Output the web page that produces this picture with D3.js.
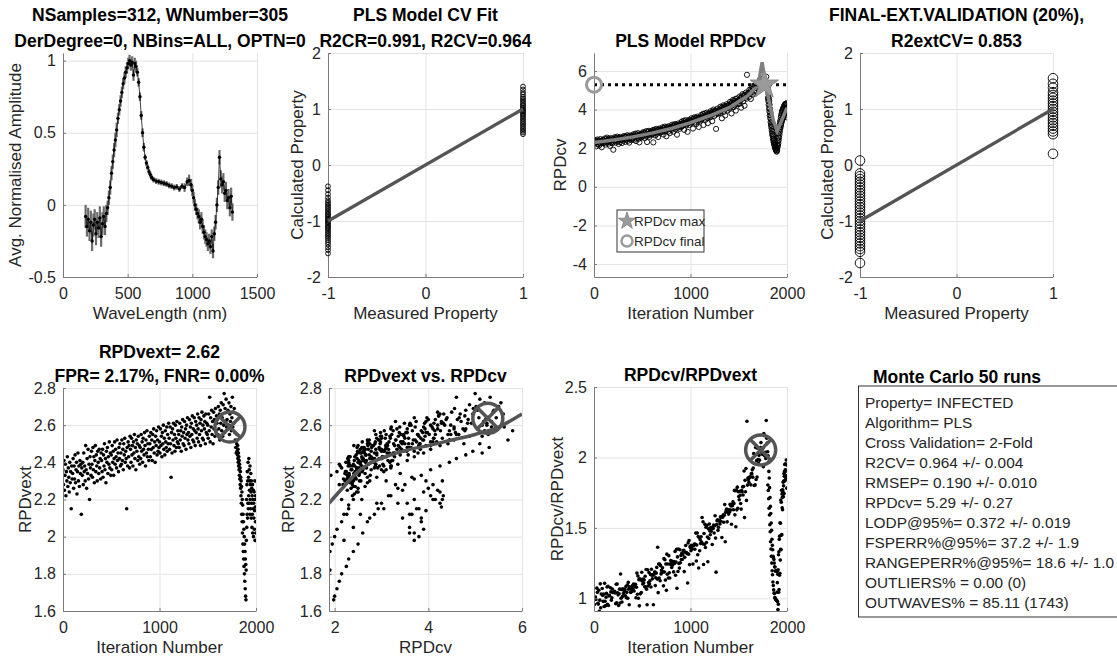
<!DOCTYPE html>
<html>
<head>
<meta charset="utf-8">
<title>PLS Monte Carlo</title>
<script src="https://cdn.jsdelivr.net/npm/d3@7"></script>
<style>
  body { margin: 0; background: #fff; }
  svg { font-family: "Liberation Sans", Arial, sans-serif; }
</style>
</head>
<body>
<svg id="fig" width="1117" height="657"></svg>
<script>
// ---------- data ----------
// averaged spectrum (panel 1)
const waveLength = [175,185,195,205,215,225,235,245,255,265,
  275,285,295,305,315,325,335,345,355,365,
  375,385,395,405,415,425,435,445,455,465,
  475,485,495,505,515,525,535,545,555,565,
  575,585,595,605,615,625,635,645,655,665,
  675,685,700,720,740,760,780,800,820,840,
  860,880,900,920,940,960,975,990,1000,1010,
  1020,1030,1040,1050,1060,1070,1080,1090,1100,1110,
  1120,1130,1140,1150,1160,1170,1180,1190,1200,1210,
  1220,1230,1240,1250,1260,1270,1280,1290,1300,1310];
const amplitude = [-0.08,-0.15,-0.10,-0.18,-0.12,-0.25,-0.14,-0.10,-0.20,-0.12,
  -0.16,-0.09,-0.22,-0.13,-0.08,-0.15,-0.06,-0.02,0.05,0.12,
  0.22,0.30,0.38,0.45,0.52,0.60,0.66,0.72,0.78,0.84,
  0.88,0.92,0.95,0.98,1.00,0.97,0.99,0.90,0.98,0.96,
  0.92,0.85,0.75,0.62,0.50,0.40,0.33,0.29,0.26,0.23,
  0.21,0.19,0.175,0.165,0.16,0.155,0.15,0.145,0.135,0.13,
  0.12,0.125,0.11,0.13,0.12,0.16,0.17,0.14,0.10,0.05,
  0.00,-0.03,-0.06,-0.08,-0.12,-0.10,-0.15,-0.19,-0.22,-0.24,
  -0.27,-0.25,-0.29,-0.22,-0.32,-0.20,-0.12,0.00,0.12,0.33,
  0.18,0.14,0.16,0.08,0.10,0.03,0.05,-0.02,0.06,-0.05];
const amplitudeSd = [0.08,0.07,0.08,0.07,0.08,0.07,0.08,0.07,0.08,0.07,
  0.07,0.08,0.07,0.08,0.07,0.06,0.06,0.05,0.05,0.05,
  0.05,0.05,0.05,0.05,0.05,0.04,0.04,0.04,0.04,0.04,
  0.04,0.04,0.04,0.04,0.04,0.04,0.04,0.04,0.04,0.04,
  0.03,0.03,0.03,0.03,0.03,0.03,0.02,0.02,0.02,0.02,
  0.02,0.02,0.02,0.02,0.02,0.02,0.02,0.02,0.02,0.02,
  0.02,0.02,0.02,0.02,0.03,0.03,0.04,0.04,0.04,0.04,
  0.04,0.04,0.04,0.05,0.05,0.05,0.05,0.05,0.05,0.05,
  0.05,0.05,0.05,0.05,0.05,0.05,0.05,0.05,0.05,0.05,
  0.06,0.06,0.06,0.06,0.06,0.06,0.06,0.06,0.06,0.06];

// CV fit (panel 2) and external validation (panel 4)
const cvCalcNeg = [-1.58,-1.52,-1.47,-1.42,-1.38,-1.34,-1.30,-1.27,-1.24,-1.21,-1.18,-1.15,-1.12,-1.10,-1.07,-1.05,-1.02,-1.00,
  -0.98,-0.95,-0.93,-0.90,-0.88,-0.85,-0.82,-0.79,-0.76,-0.73,-0.70,-0.67,-0.63,-0.58,-0.52,-0.45,-0.38];
const cvCalcPos = [0.55,0.58,0.61,0.64,0.67,0.70,0.73,0.76,0.79,0.82,0.85,0.88,0.90,0.93,0.95,0.98,1.00,1.02,
  1.05,1.07,1.10,1.13,1.16,1.19,1.22,1.26,1.30,1.35,1.40];
const extCalcNeg = [-1.75,-1.55,-1.50,-1.45,-1.40,-1.35,-1.30,-1.25,-1.20,-1.15,-1.10,-1.05,-1.00,-0.95,-0.90,-0.85,
  -0.80,-0.75,-0.70,-0.65,-0.60,-0.55,-0.50,-0.45,-0.40,-0.35,-0.30,-0.25,-0.20,-0.15,0.08];
const extCalcPos = [0.20,0.55,0.60,0.65,0.70,0.75,0.80,0.85,0.90,0.95,1.00,1.05,1.10,1.15,1.20,1.25,1.30,1.38,1.45,1.55];
const fitLine = [-1, 1];

// iterations: every 5 up to 1795, every 2 over the collapse 1800..2000
const iterations = d3.range(0, 1800, 5).concat(d3.range(1800, 2001, 2));
const rpdcv = [
  2.35,2.18,2.42,2.27,2.31,2.10,2.38,2.45,2.22,2.33,2.40,2.15,2.29,2.47,2.24,2.36,2.05,2.30,2.43,2.26,
  2.41,2.28,2.50,2.33,2.19,2.46,2.37,2.55,2.30,2.42,2.23,2.49,2.35,2.12,2.44,2.52,2.31,2.40,2.26,2.47,
  1.92,2.50,2.38,2.57,2.44,2.29,2.53,2.41,2.60,2.35,2.48,2.22,2.55,2.46,2.31,2.58,2.43,2.52,2.27,2.49,
  2.55,2.40,2.63,2.48,2.58,2.33,2.61,2.50,2.45,2.67,2.38,2.56,2.62,2.29,2.53,2.66,2.47,2.59,2.42,2.64,
  2.63,2.51,2.72,2.44,2.66,2.58,2.75,2.37,2.61,2.70,2.53,2.78,2.48,2.65,2.30,2.72,2.59,2.68,2.55,2.76,
  2.74,2.60,2.83,2.66,2.78,2.52,2.80,2.71,2.88,2.63,2.32,2.85,2.74,2.68,2.90,2.59,2.79,2.83,2.70,2.87,
  2.85,2.72,2.94,2.30,2.88,2.78,2.97,2.66,2.90,2.83,3.00,2.75,2.93,2.58,2.96,2.87,3.02,2.80,2.92,2.98,
  2.96,2.84,3.08,2.90,2.71,3.05,2.98,3.12,2.88,3.01,2.62,3.10,2.95,3.06,2.86,3.14,3.00,2.78,3.09,3.03,
  3.10,2.95,3.22,3.04,3.16,2.85,3.19,3.08,3.25,2.98,3.13,3.21,2.70,3.17,3.06,3.28,3.12,3.00,3.24,3.18,
  3.26,3.10,3.38,3.15,3.30,3.22,3.42,2.95,3.33,3.25,3.45,3.18,3.36,3.28,2.85,3.40,3.31,3.47,3.21,3.39,
  3.41,3.28,3.55,3.36,3.48,3.02,3.52,3.44,3.60,3.33,3.50,3.57,3.25,3.46,3.63,3.39,3.54,3.10,3.58,3.49,
  3.58,3.43,3.72,3.50,3.65,3.55,3.78,3.20,3.68,3.61,3.80,3.47,3.70,3.63,3.84,3.56,3.30,3.75,3.66,3.82,
  3.77,3.60,3.92,3.72,3.85,3.40,3.90,3.80,4.00,3.66,3.88,3.95,3.74,3.00,3.93,3.83,4.05,3.78,3.97,3.90,
  3.98,3.82,4.15,3.93,4.08,3.55,4.12,4.02,4.22,3.88,4.10,4.18,3.70,4.14,4.05,4.28,3.95,4.20,4.11,4.25,
  4.20,4.05,4.40,4.15,4.32,3.80,4.38,4.26,4.50,4.12,4.35,4.45,4.22,4.55,3.95,4.42,4.33,4.58,4.28,4.48,
  4.48,4.30,4.68,4.45,4.60,4.10,4.66,4.55,4.80,4.42,4.70,4.76,4.20,4.74,4.62,4.88,4.56,5.80,4.78,4.84,
  4.85,4.65,5.02,4.80,4.95,4.55,5.05,4.92,5.20,4.78,5.08,5.15,4.88,5.25,5.00,5.30,4.96,5.18,5.10,5.35,
  5.22,5.05,5.40,5.15,5.55,5.28,5.60,5.35,5.50,5.20,5.45,5.32,5.62,5.38,5.25,5.48,5.10,5.70,5.30,5.15,
  // 1800..2000 step 2
  5.10,4.60,4.95,4.45,4.80,4.25,4.60,4.05,4.45,3.90,4.25,3.70,4.05,3.55,3.85,3.35,3.70,3.20,3.50,3.05,
  3.35,2.90,3.15,2.75,3.00,2.65,2.85,2.50,2.70,2.40,2.60,2.30,2.50,2.20,2.40,2.15,2.30,2.05,2.25,2.00,
  2.15,1.95,2.10,1.90,2.05,1.85,2.00,1.82,1.98,1.90,2.20,2.15,2.40,2.10,2.55,2.25,2.75,2.40,2.90,2.55,
  3.05,2.70,3.20,2.85,3.35,3.00,3.45,3.10,3.60,3.20,3.70,3.30,3.80,3.40,3.90,3.45,3.95,3.55,4.00,3.60,
  4.05,3.65,4.10,3.70,4.15,3.75,4.20,3.80,4.25,3.85,4.25,3.90,4.30,3.95,4.30,3.70,4.28,3.85,4.32,3.60,
  4.10];
const rpdvext = [
  2.36,2.28,2.41,2.25,2.33,2.39,2.22,2.35,2.30,2.43,2.27,2.37,2.32,2.24,2.40,2.29,2.35,2.15,2.38,2.31,
  2.34,2.42,2.26,2.38,2.31,2.44,2.29,2.36,2.40,2.23,2.35,2.45,2.30,2.38,2.27,2.41,2.34,2.39,2.12,2.37,
  2.33,2.40,2.28,2.45,2.35,2.38,2.30,2.49,2.36,2.26,2.42,2.34,2.47,2.31,2.39,2.20,2.43,2.37,2.33,2.46,
  2.39,2.32,2.48,2.36,2.43,2.29,2.41,2.49,2.35,2.44,2.38,2.30,2.46,2.40,2.34,2.47,2.37,2.42,2.31,2.45,
  2.41,2.35,2.47,2.32,2.44,2.38,2.50,2.36,2.42,2.29,2.46,2.40,2.48,2.34,2.43,2.39,2.51,2.37,2.45,2.33,
  2.44,2.36,2.49,2.40,2.46,2.33,2.42,2.51,2.39,2.47,2.43,2.37,2.52,2.41,2.45,2.35,2.48,2.42,2.50,2.38,
  2.45,2.39,2.52,2.41,2.47,2.36,2.50,2.44,2.53,2.40,2.46,2.42,2.15,2.48,2.38,2.51,2.43,2.49,2.37,2.54,
  2.47,2.40,2.53,2.44,2.49,2.38,2.51,2.45,2.55,2.42,2.48,2.36,2.52,2.46,2.50,2.41,2.54,2.43,2.49,2.39,
  2.48,2.42,2.55,2.46,2.51,2.40,2.53,2.47,2.44,2.56,2.49,2.38,2.52,2.45,2.57,2.43,2.50,2.47,2.41,2.54,
  2.50,2.43,2.56,2.47,2.52,2.41,2.55,2.48,2.58,2.45,2.51,2.40,2.54,2.49,2.57,2.44,2.52,2.46,2.59,2.48,
  2.51,2.45,2.58,2.49,2.54,2.43,2.56,2.50,2.60,2.47,2.53,2.44,2.57,2.51,2.48,2.59,2.46,2.55,2.50,2.61,
  2.53,2.47,2.59,2.50,2.32,2.56,2.45,2.58,2.52,2.61,2.49,2.55,2.46,2.60,2.53,2.48,2.62,2.51,2.57,2.50,
  2.55,2.48,2.61,2.52,2.57,2.46,2.59,2.54,2.63,2.50,2.56,2.49,2.62,2.53,2.58,2.47,2.60,2.55,2.64,2.52,
  2.56,2.50,2.63,2.54,2.59,2.48,2.61,2.55,2.65,2.52,2.58,2.51,2.64,2.57,2.49,2.62,2.56,2.60,2.53,2.66,
  2.58,2.51,2.64,2.55,2.61,2.49,2.63,2.57,2.67,2.53,2.60,2.52,2.65,2.58,2.62,2.50,2.66,2.56,2.61,2.55,
  2.60,2.53,2.66,2.57,2.75,2.51,2.64,2.59,2.68,2.55,2.62,2.50,2.67,2.58,2.63,2.54,2.69,2.57,2.65,2.61,
  2.63,2.55,2.70,2.58,2.66,2.52,2.68,2.61,2.72,2.57,2.64,2.54,2.71,2.60,2.77,2.56,2.69,2.62,2.74,2.59,
  2.63,2.58,2.68,2.60,2.72,2.55,2.66,2.62,2.70,2.57,2.64,2.75,2.59,2.67,2.61,2.69,2.56,2.52,2.48,2.45,
  // 1800..2000 step 2
  2.50,2.55,2.46,2.52,2.44,2.49,2.42,2.47,2.40,2.45,2.38,2.43,2.36,2.41,2.33,2.39,2.31,2.37,2.28,2.35,
  2.26,2.32,2.22,2.30,2.18,2.27,2.12,2.24,2.08,2.20,2.02,2.17,1.96,2.12,1.92,2.08,1.88,2.04,1.84,2.00,
  1.80,1.96,1.76,1.92,1.72,1.88,1.68,1.85,1.66,1.82,1.98,2.20,2.05,2.28,2.12,2.35,2.10,2.30,2.18,2.40,
  2.15,2.32,2.22,2.42,2.18,2.36,2.25,2.30,2.12,2.38,2.20,2.28,2.15,2.34,2.24,2.10,2.30,2.18,2.26,2.05,
  2.22,2.12,2.28,2.02,2.20,2.15,2.25,2.00,2.18,2.10,2.24,2.04,2.20,2.14,2.30,1.98,2.16,2.08,2.22,2.02,
  2.20];

// smoothed RPDcv curve (panel 3)
const cvFitIter = [0,200,400,600,800,1000,1200,1400,1600,1700,1742,1780,1820,1860,1900,1950,2000];
const cvFitVal  = [2.30,2.42,2.58,2.78,3.02,3.32,3.68,4.10,4.75,5.25,6.45,5.30,4.30,3.40,2.90,3.50,4.10];
// trend RPDvext vs RPDcv (panel 6)
const extFitCv  = [1.88,2.2,2.5,2.8,3.2,3.6,4.0,4.5,5.0,5.5,6.0];
const extFitVal = [2.18,2.27,2.35,2.40,2.44,2.47,2.49,2.52,2.55,2.59,2.66];

const rpdcvFinal = 5.29;
const bestIter = { star: 1765, ext: 1730, ratio: 1727 };
const bestPoint = { ext: 2.59, cv: 5.27, cvExt: 2.637, ratio: 2.053 };

const summaryLines = [
  "Property= INFECTED", "Algorithm= PLS", "Cross Validation= 2-Fold",
  "R2CV= 0.964 +/- 0.004", "RMSEP= 0.190 +/- 0.010", "RPDcv= 5.29 +/- 0.27",
  "LODP@95%= 0.372 +/- 0.019", "FSPERR%@95%= 37.2 +/- 1.9", "RANGEPERR%@95%= 18.6 +/- 1.0",
  "OUTLIERS% = 0.00 (0)", "OUTWAVES% = 85.11 (1743)"
];

// ---------- helpers ----------
const svg = d3.select("#fig");
const TXT = "#262626", AXC = "#7a7a7a", GRID = "#e3e3e3", FIT = "#545454";

function makePanel(p) {
  const x = d3.scaleLinear().domain(p.xDomain).range([p.left, p.right]);
  const y = d3.scaleLinear().domain(p.yDomain).range([p.bottom, p.top]);
  const w = p.right - p.left, h = p.bottom - p.top;
  const g = svg.append("g");

  g.append("g").attr("transform", `translate(0,${p.bottom})`)
    .call(d3.axisBottom(x).tickValues(p.xTicks).tickSize(-h).tickFormat(""))
    .call(s => { s.select(".domain").remove(); s.selectAll("line").attr("stroke", GRID); });
  g.append("g").attr("transform", `translate(${p.left},0)`)
    .call(d3.axisLeft(y).tickValues(p.yTicks).tickSize(-w).tickFormat(""))
    .call(s => { s.select(".domain").remove(); s.selectAll("line").attr("stroke", GRID); });

  g.append("clipPath").attr("id", "clip" + p.id)
    .append("rect").attr("x", p.left).attr("y", p.top).attr("width", w).attr("height", h);
  const plot = g.append("g").attr("clip-path", `url(#clip${p.id})`);

  const styleAxis = s => {
    s.attr("font-family", null).attr("font-size", null);
    s.select(".domain").attr("stroke", AXC);
    s.selectAll(".tick line").attr("stroke", AXC);
    s.selectAll("text").attr("fill", TXT).style("font-size", "16px");
  };
  g.append("g").attr("transform", `translate(0,${p.bottom})`)
    .call(d3.axisBottom(x).tickValues(p.xTicks).tickSizeInner(-3).tickSizeOuter(0)
      .tickPadding(11).tickFormat(d => String(d)))
    .call(styleAxis);
  g.append("g").attr("transform", `translate(${p.left},0)`)
    .call(d3.axisLeft(y).tickValues(p.yTicks).tickSizeInner(-3).tickSizeOuter(0)
      .tickPadding(7).tickFormat(d => String(d)))
    .call(styleAxis);

  const cx = (p.left + p.right) / 2;
  g.append("text").attr("x", cx).attr("y", p.bottom + 42).attr("text-anchor", "middle")
    .attr("fill", TXT).style("font-size", "17px").text(p.xLabel);
  g.append("text").attr("transform", `translate(${p.yLabelX},${(p.top + p.bottom) / 2}) rotate(-90)`)
    .attr("dy", "0.35em").attr("text-anchor", "middle")
    .attr("fill", TXT).style("font-size", "17px").text(p.yLabel);

  const gap = p.titleGap || 25;
  p.title.forEach((t, i) => {
    g.append("text").attr("x", cx).attr("y", p.top - 6 - (p.title.length - 1 - i) * gap)
      .attr("text-anchor", "middle").attr("fill", "#000")
      .style("font-size", "17.5px").style("font-weight", "bold").text(t);
  });

  const over = g.append("g");
  return { x, y, plot, over };
}

function crossCircle(sel, cx, cy, r) {
  const k = r * 0.7;
  sel.append("circle").attr("cx", cx).attr("cy", cy).attr("r", r)
    .attr("fill", "none").attr("stroke", FIT).attr("stroke-width", 3.5);
  sel.append("path").attr("d", `M${cx - k},${cy - k}L${cx + k},${cy + k}M${cx - k},${cy + k}L${cx + k},${cy - k}`)
    .attr("stroke", FIT).attr("stroke-width", 3.5);
}

const TOP = 53, TBOT = 277, BTOP = 388, BBOT = 611;

// ---------- panel 1: spectrum ----------
{
  const P = makePanel({ id: 1, left: 63, right: 257, top: TOP, bottom: TBOT, titleGap: 26,
    xDomain: [0, 1500], yDomain: [-0.5, 1.053], xTicks: [0, 500, 1000, 1500], yTicks: [-0.5, 0, 0.5, 1],
    xLabel: "WaveLength (nm)", yLabel: "Avg. Normalised Amplitude", yLabelX: 15,
    title: ["NSamples=312, WNumber=305", "DerDegree=0, NBins=ALL, OPTN=0"] });
  const pts = waveLength.map((w, i) => ({ w, a: amplitude[i], s: amplitudeSd[i] }));
  P.plot.selectAll(".eb").data(pts).join("line")
    .attr("x1", d => P.x(d.w)).attr("x2", d => P.x(d.w))
    .attr("y1", d => P.y(d.a - d.s)).attr("y2", d => P.y(d.a + d.s))
    .attr("stroke", "#6a6a6a").attr("stroke-width", 2.2);
  P.plot.append("path").datum(pts)
    .attr("d", d3.line().x(d => P.x(d.w)).y(d => P.y(d.a)))
    .attr("fill", "none").attr("stroke", "#111").attr("stroke-width", 0.8);
  P.plot.selectAll(".dot").data(pts).join("circle")
    .attr("cx", d => P.x(d.w)).attr("cy", d => P.y(d.a)).attr("r", 1.7).attr("fill", "#000");
}

// ---------- panels 2 and 4: measured vs calculated ----------
function fitPanel(cfg, neg, pos, r) {
  const P = makePanel(Object.assign({ top: TOP, bottom: TBOT, titleGap: 26, xDomain: [-1, 1], yDomain: [-2, 2],
    xTicks: [-1, 0, 1], yTicks: [-2, -1, 0, 1, 2],
    xLabel: "Measured Property", yLabel: "Calculated Property" }, cfg));
  const pts = neg.map(v => [-1, v]).concat(pos.map(v => [1, v]));
  P.over.selectAll(".c").data(pts).join("circle")
    .attr("cx", d => P.x(d[0])).attr("cy", d => P.y(d[1])).attr("r", r)
    .attr("fill", "none").attr("stroke", "#000").attr("stroke-width", 0.9);
  P.over.append("line")
    .attr("x1", P.x(fitLine[0])).attr("y1", P.y(fitLine[0]))
    .attr("x2", P.x(fitLine[1])).attr("y2", P.y(fitLine[1]))
    .attr("stroke", FIT).attr("stroke-width", 3.2);
}
fitPanel({ id: 2, left: 328, right: 523, yLabelX: 297,
  title: ["PLS Model CV Fit", "R2CR=0.991, R2CV=0.964"] }, cvCalcNeg, cvCalcPos, 2.4);
fitPanel({ id: 4, left: 860, right: 1053, yLabelX: 827,
  title: ["FINAL-EXT.VALIDATION (20%),", "R2extCV= 0.853"] }, extCalcNeg, extCalcPos, 4.8);

// ---------- panel 3: RPDcv per iteration ----------
{
  const P = makePanel({ id: 3, left: 594, right: 787, top: TOP, bottom: TBOT,
    xDomain: [0, 2000], yDomain: [-4.67, 6.93], xTicks: [0, 1000, 2000], yTicks: [-4, -2, 0, 2, 4, 6],
    xLabel: "Iteration Number", yLabel: "RPDcv", yLabelX: 560, title: ["PLS Model RPDcv"] });
  P.plot.selectAll(".c").data(iterations).join("circle")
    .attr("cx", d => P.x(d)).attr("cy", (d, i) => P.y(rpdcv[i])).attr("r", 2.6)
    .attr("fill", "none").attr("stroke", "#000").attr("stroke-width", 0.9);
  P.plot.append("path").datum(cvFitIter)
    .attr("d", d3.line().x(d => P.x(d)).y((d, i) => P.y(cvFitVal[i])))
    .attr("fill", "none").attr("stroke", "#808080").attr("stroke-width", 3.5);
  P.plot.append("line").attr("x1", P.x(0)).attr("x2", P.x(2000))
    .attr("y1", P.y(rpdcvFinal)).attr("y2", P.y(rpdcvFinal))
    .attr("stroke", "#000").attr("stroke-width", 3).attr("stroke-dasharray", "3,4");
  const star = d3.symbol(d3.symbolStar);
  P.over.append("path").attr("d", star.size(15 * 15 / 0.8908)())
    .attr("transform", `translate(${P.x(bestIter.star)},${P.y(rpdcvFinal)})`)
    .attr("fill", "#9a9a9a").attr("stroke", "#8a8a8a");
  P.over.append("circle").attr("cx", P.x(0)).attr("cy", P.y(rpdcvFinal)).attr("r", 7.5)
    .attr("fill", "none").attr("stroke", "#9a9a9a").attr("stroke-width", 3);
  // legend
  const lg = P.over.append("g").attr("transform", "translate(617,210)");
  lg.append("rect").attr("width", 87).attr("height", 42).attr("fill", "#fff").attr("stroke", "#333");
  lg.append("path").attr("d", star.size(9 * 9 / 0.8908)()).attr("transform", "translate(10,11)")
    .attr("fill", "#9a9a9a").attr("stroke", "#8a8a8a");
  lg.append("circle").attr("cx", 10).attr("cy", 31).attr("r", 5.5)
    .attr("fill", "none").attr("stroke", "#9a9a9a").attr("stroke-width", 2.5);
  lg.append("text").attr("x", 17).attr("y", 15.5).attr("fill", TXT).style("font-size", "13.5px").text("RPDcv max");
  lg.append("text").attr("x", 17).attr("y", 35.5).attr("fill", TXT).style("font-size", "13.5px").text("RPDcv final");
}

// ---------- panel 5: RPDvext per iteration ----------
{
  const P = makePanel({ id: 5, left: 63, right: 256, top: BTOP, bottom: BBOT, titleGap: 24,
    xDomain: [0, 2000], yDomain: [1.6, 2.8], xTicks: [0, 1000, 2000], yTicks: [1.6, 1.8, 2, 2.2, 2.4, 2.6, 2.8],
    xLabel: "Iteration Number", yLabel: "RPDvext", yLabelX: 25,
    title: ["RPDvext= 2.62", "FPR= 2.17%, FNR= 0.00%"] });
  P.plot.selectAll(".d").data(iterations).join("circle")
    .attr("cx", d => P.x(d)).attr("cy", (d, i) => P.y(rpdvext[i])).attr("r", 1.8).attr("fill", "#000");
  crossCircle(P.over, P.x(bestIter.ext), P.y(bestPoint.ext), 15);
}

// ---------- panel 6: RPDvext vs RPDcv ----------
{
  const P = makePanel({ id: 6, left: 329, right: 522, top: BTOP, bottom: BBOT,
    xDomain: [1.88, 6], yDomain: [1.6, 2.8], xTicks: [2, 4, 6], yTicks: [1.6, 1.8, 2, 2.2, 2.4, 2.6, 2.8],
    xLabel: "RPDcv", yLabel: "RPDvext", yLabelX: 288, title: ["RPDvext vs. RPDcv"] });
  P.plot.selectAll(".d").data(rpdcv).join("circle")
    .attr("cx", d => P.x(d)).attr("cy", (d, i) => P.y(rpdvext[i])).attr("r", 1.8).attr("fill", "#000");
  P.plot.append("path").datum(extFitCv)
    .attr("d", d3.line().curve(d3.curveMonotoneX).x(d => P.x(d)).y((d, i) => P.y(extFitVal[i])))
    .attr("fill", "none").attr("stroke", FIT).attr("stroke-width", 3.5);
  crossCircle(P.over, P.x(bestPoint.cv), P.y(bestPoint.cvExt), 15);
}

// ---------- panel 7: ratio ----------
{
  const P = makePanel({ id: 7, left: 594, right: 787, top: BTOP - 1, bottom: BBOT,
    xDomain: [0, 2000], yDomain: [0.91, 2.5], xTicks: [0, 1000, 2000], yTicks: [1, 1.5, 2, 2.5],
    xLabel: "Iteration Number", yLabel: "RPDcv/RPDvext", yLabelX: 557, title: ["RPDcv/RPDvext"] });
  P.plot.selectAll(".d").data(iterations).join("circle")
    .attr("cx", d => P.x(d)).attr("cy", (d, i) => P.y(rpdcv[i] / rpdvext[i])).attr("r", 1.8).attr("fill", "#000");
  crossCircle(P.over, P.x(bestIter.ratio), P.y(bestPoint.ratio), 15);
}

// ---------- summary box ----------
{
  const g = svg.append("g");
  g.append("text").attr("x", 957).attr("y", 383).attr("text-anchor", "middle")
    .style("font-size", "17.5px").style("font-weight", "bold").text("Monte Carlo 50 runs");
  g.append("rect").attr("x", 858.5).attr("y", 386).attr("width", 300).attr("height", 231)
    .attr("fill", "#fff").attr("stroke", "#333");
  g.selectAll(".ln").data(summaryLines).join("text")
    .attr("x", 865).attr("y", (d, i) => 408 + i * 20)
    .attr("fill", TXT).style("font-size", "15.4px").text(d => d);
}
</script>
</body>
</html>
